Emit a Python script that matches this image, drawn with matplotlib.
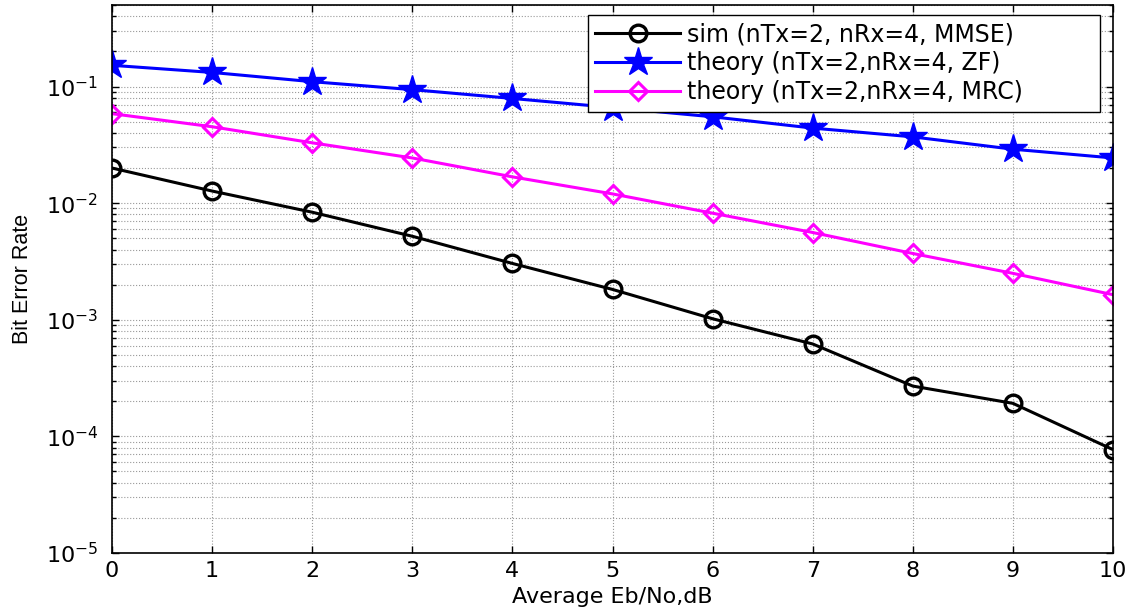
import matplotlib
matplotlib.use("Agg")
import matplotlib.pyplot as plt
from matplotlib.ticker import NullFormatter, LogLocator

# Eb/No points (dB)
EbNo = [0, 1, 2, 3, 4, 5, 6, 7, 8, 9, 10]

# simulated MMSE, theory ZF, theory MRC
ber_sim_mmse = [0.0200, 0.0127, 0.00836, 0.00520, 0.00304, 0.00182,
                0.00102, 6.2e-4, 2.7e-4, 1.92e-4, 7.7e-5]
ber_theory_zf = [0.152, 0.132, 0.110, 0.094, 0.079, 0.066,
                 0.055, 0.044, 0.037, 0.029, 0.0244]
ber_theory_mrc = [0.0585, 0.0452, 0.0329, 0.0244, 0.0168, 0.0120,
                  0.0082, 0.0056, 0.0037, 0.0025, 0.00164]

labels = ["sim (nTx=2, nRx=4, MMSE)",
          "theory (nTx=2,nRx=4, ZF)",
          "theory (nTx=2,nRx=4, MRC)"]

plt.rcParams['font.family'] = ['DejaVu Sans']
plt.rcParams['mathtext.default'] = 'regular'
plt.rcParams['axes.unicode_minus'] = False

fig = plt.figure(figsize=(11.29, 6.14), dpi=100)
ax = fig.add_axes([112/1129, 1-553/614, (1113-112)/1129, (553-5)/614])

ax.semilogy(EbNo, ber_sim_mmse, color='black', lw=2.2, marker='o', ms=12,
            mfc='none', mew=2.4, label=labels[0])
ax.semilogy(EbNo, ber_theory_zf, color='#0000ff', lw=2.2, marker='*', ms=21,
            mfc='#0000ff', mec='#0000ff', label=labels[1])
ax.semilogy(EbNo, ber_theory_mrc, color='#ff00ff', lw=2.2, marker='D', ms=9.5,
            mfc='none', mew=2.2, label=labels[2])

ax.set_xlim(0, 10)
ax.set_ylim(1e-5, 0.5)
ax.set_xticks(range(0, 11))
ax.yaxis.set_major_locator(LogLocator(base=10, numticks=10))
ax.yaxis.set_minor_locator(LogLocator(base=10, subs=range(2, 10), numticks=20))
ax.yaxis.set_minor_formatter(NullFormatter())

ax.grid(True, which='major', axis='both', color='0.6', ls=':', lw=0.8)
ax.grid(True, which='minor', axis='y', color='0.6', ls=':', lw=0.8)

ax.tick_params(which='both', direction='in', top=True, right=True, width=1)
ax.tick_params(which='major', length=5)
ax.tick_params(which='minor', length=3)
ax.tick_params(axis='x', labelsize=16, pad=5.5)
ax.tick_params(axis='y', labelsize=16, pad=10)
for sp in ax.spines.values():
    sp.set_linewidth(1.2)

ax.set_xlabel("Average Eb/No,dB", fontsize=16)
ax.xaxis.set_label_coords(0.5, -0.062)
ax.set_ylabel("Bit Error Rate", fontsize=15.5, family=['Liberation Sans', 'DejaVu Sans'])
ax.yaxis.set_label_coords(-0.079, 0.5)

leg = ax.legend(loc='upper left', bbox_to_anchor=(0.4755, 0.8066, 0.5115, 0.1752),
                mode='expand', fontsize=17,
                fancybox=False, framealpha=1, edgecolor='black',
                handlelength=3.6, handletextpad=0.3, labelspacing=0.22,
                borderpad=0.3, borderaxespad=0)
leg.get_frame().set_linewidth(1.0)

fig.savefig("out.png", dpi=100)
